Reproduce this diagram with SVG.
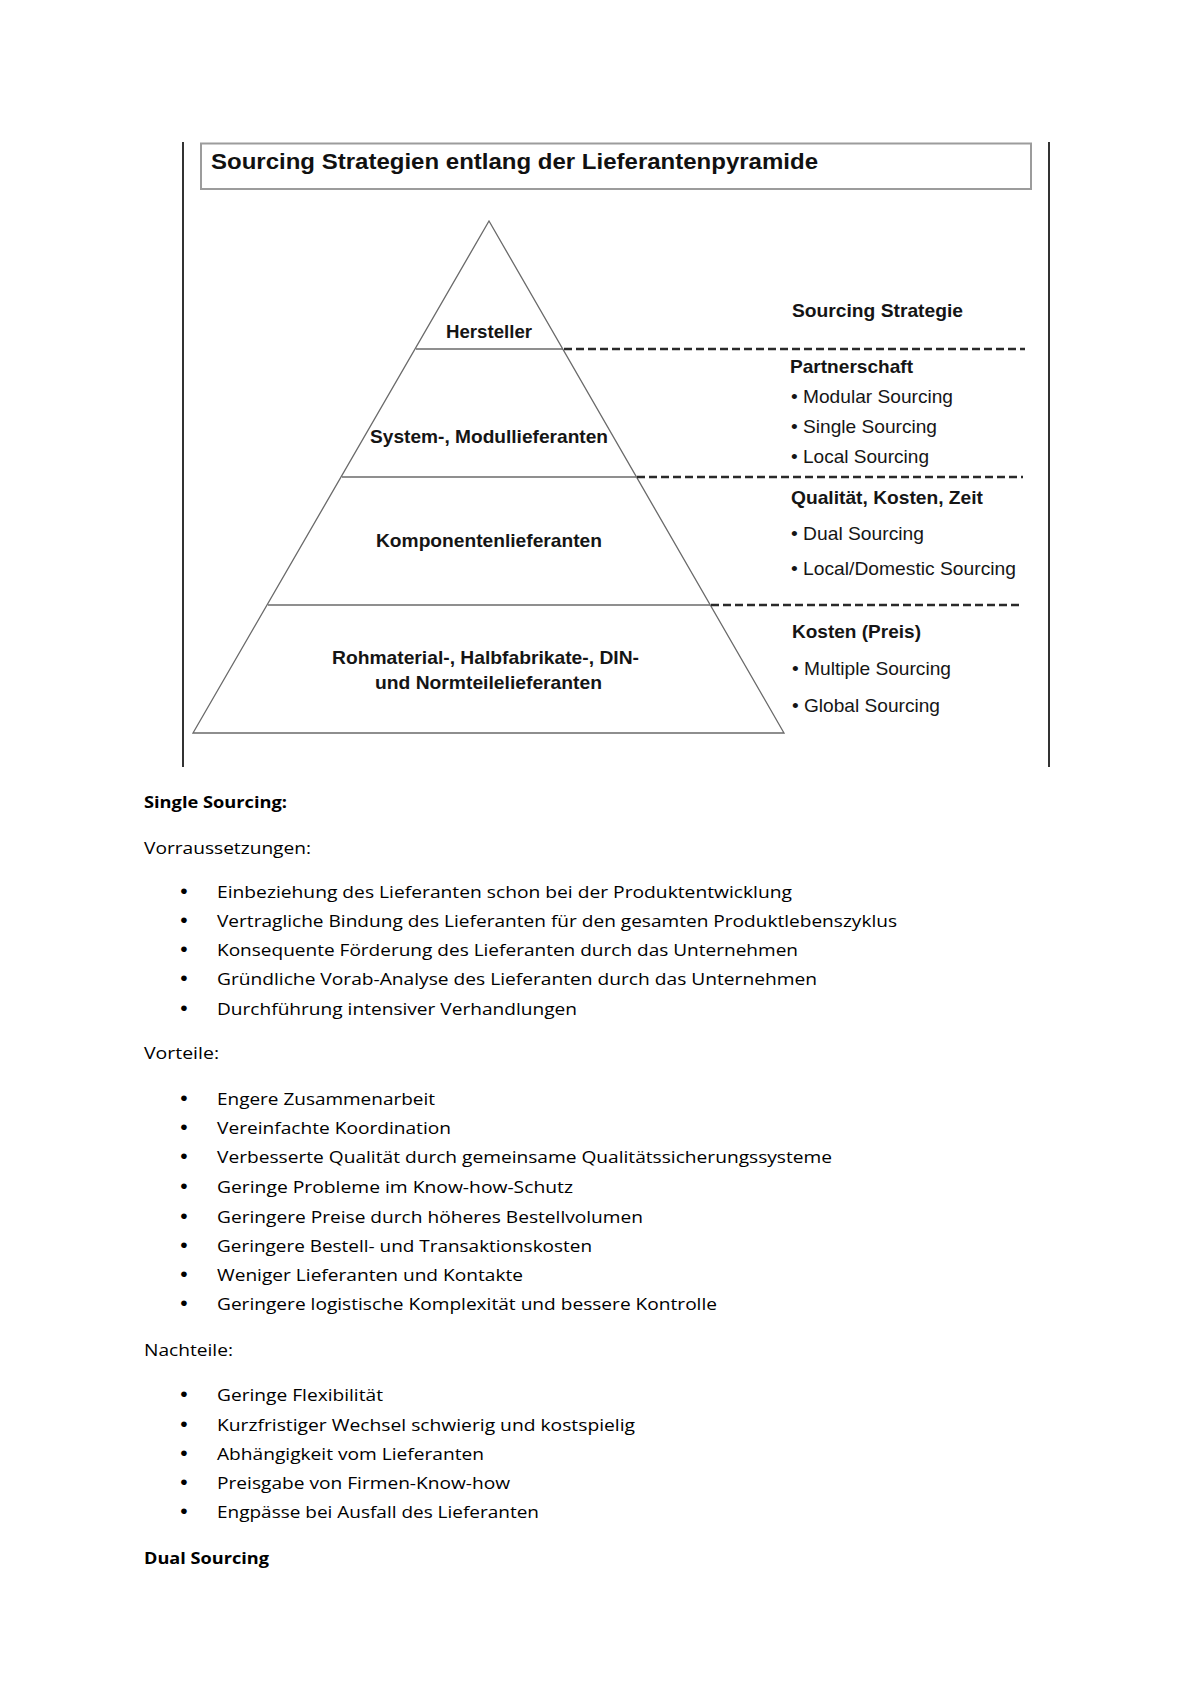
<svg xmlns="http://www.w3.org/2000/svg" width="1200" height="1698" viewBox="0 0 1200 1698">
<style>
.frame{stroke:#333;stroke-width:2;fill:none}
.pyr{stroke:#6a6a6a;stroke-width:1.3;fill:none}
.dash{stroke:#2a2a2a;stroke-width:2.4;stroke-dasharray:8 4;fill:none}
.lbl{font-family:"Liberation Sans",Arial,sans-serif;font-weight:bold;font-size:18.5px;fill:#151515}
.hd{font-family:"Liberation Sans",Arial,sans-serif;font-weight:bold;font-size:19px;fill:#151515}
.it{font-family:"Liberation Sans",Arial,sans-serif;font-size:19px;fill:#151515}
.title{font-family:"Liberation Sans",Arial,sans-serif;font-weight:bold;font-size:22px;fill:#111}
.b{font-family:"Open Sans","Noto Sans",sans-serif;font-size:16.5px;fill:#000}
.bb{font-family:"Open Sans","Noto Sans",sans-serif;font-size:16.5px;font-weight:bold;fill:#000}
.dot{font-family:"Liberation Sans",Arial,sans-serif;font-size:21px;fill:#000}
</style>
<rect width="1200" height="1698" fill="#fff"/>
<g id="frame">
<line class="frame" x1="183" y1="142" x2="183" y2="767"/>
<line class="frame" x1="1049" y1="142" x2="1049" y2="767"/>
</g>
<g id="title">
<rect x="201" y="143.5" width="830" height="45.5" fill="#fff" stroke="#9c9c9c" stroke-width="2"/>
<text class="title" x="211" y="169" textLength="607" lengthAdjust="spacingAndGlyphs">Sourcing Strategien entlang der Lieferantenpyramide</text>
</g>
<g id="pyramid">
<polygon class="pyr" points="489,221 784,733 193,733"/>
<g id="level-hersteller">
<line class="pyr" x1="416" y1="349" x2="563" y2="349"/>
<text class="lbl" x="446" y="338" textLength="86" lengthAdjust="spacingAndGlyphs">Hersteller</text>
</g>
<g id="level-system">
<line class="pyr" x1="342" y1="477" x2="636" y2="477"/>
<text class="lbl" x="370" y="443" textLength="238" lengthAdjust="spacingAndGlyphs">System-, Modullieferanten</text>
</g>
<g id="level-komponenten">
<line class="pyr" x1="268" y1="605" x2="710" y2="605"/>
<text class="lbl" x="376" y="547" textLength="226" lengthAdjust="spacingAndGlyphs">Komponentenlieferanten</text>
</g>
<g id="level-rohmaterial">
<text class="lbl" x="332" y="664" textLength="307" lengthAdjust="spacingAndGlyphs">Rohmaterial-, Halbfabrikate-, DIN-</text>
<text class="lbl" x="375" y="689" textLength="227" lengthAdjust="spacingAndGlyphs">und Normteilelieferanten</text>
</g>
</g>
<g id="connectors">
<line class="dash" x1="564" y1="349" x2="1025" y2="349"/>
<line class="dash" x1="637" y1="477" x2="1023" y2="477"/>
<line class="dash" x1="711" y1="605" x2="1023" y2="605"/>
</g>
<g id="strategies">
<text class="hd" x="792" y="317" textLength="171" lengthAdjust="spacingAndGlyphs">Sourcing Strategie</text>
<g id="strategy-partnerschaft">
<text class="hd" x="790" y="373" textLength="123" lengthAdjust="spacingAndGlyphs">Partnerschaft</text>
<text class="it" x="791" y="403" textLength="162" lengthAdjust="spacingAndGlyphs">• Modular Sourcing</text>
<text class="it" x="791" y="433" textLength="146" lengthAdjust="spacingAndGlyphs">• Single Sourcing</text>
<text class="it" x="791" y="463" textLength="138" lengthAdjust="spacingAndGlyphs">• Local Sourcing</text>
</g>
<g id="strategy-qualitaet">
<text class="hd" x="791" y="504" textLength="192" lengthAdjust="spacingAndGlyphs">Qualität, Kosten, Zeit</text>
<text class="it" x="791" y="540" textLength="133" lengthAdjust="spacingAndGlyphs">• Dual Sourcing</text>
<text class="it" x="791" y="575" textLength="225" lengthAdjust="spacingAndGlyphs">• Local/Domestic Sourcing</text>
</g>
<g id="strategy-kosten">
<text class="hd" x="792" y="638" textLength="129" lengthAdjust="spacingAndGlyphs">Kosten (Preis)</text>
<text class="it" x="792" y="675" textLength="159" lengthAdjust="spacingAndGlyphs">• Multiple Sourcing</text>
<text class="it" x="792" y="712" textLength="148" lengthAdjust="spacingAndGlyphs">• Global Sourcing</text>
</g>
</g>
<g id="body-text">
<text class="bb" x="144" y="808" textLength="143" lengthAdjust="spacingAndGlyphs">Single Sourcing:</text>
<text class="b" x="144" y="854" textLength="167" lengthAdjust="spacingAndGlyphs">Vorraussetzungen:</text>
<g class="dot" text-anchor="middle">
<text x="184" y="898">•</text><text x="184" y="927">•</text><text x="184" y="956">•</text><text x="184" y="985">•</text><text x="184" y="1015">•</text>
<text x="184" y="1105">•</text><text x="184" y="1134">•</text><text x="184" y="1163">•</text><text x="184" y="1193">•</text><text x="184" y="1223">•</text><text x="184" y="1252">•</text><text x="184" y="1281">•</text><text x="184" y="1310">•</text>
<text x="184" y="1401">•</text><text x="184" y="1431">•</text><text x="184" y="1460">•</text><text x="184" y="1489">•</text><text x="184" y="1518">•</text>
</g>
<text class="b" x="217" y="898" textLength="575" lengthAdjust="spacingAndGlyphs">Einbeziehung des Lieferanten schon bei der Produktentwicklung</text>
<text class="b" x="217" y="927" textLength="680" lengthAdjust="spacingAndGlyphs">Vertragliche Bindung des Lieferanten für den gesamten Produktlebenszyklus</text>
<text class="b" x="217" y="956" textLength="581" lengthAdjust="spacingAndGlyphs">Konsequente Förderung des Lieferanten durch das Unternehmen</text>
<text class="b" x="217" y="985" textLength="600" lengthAdjust="spacingAndGlyphs">Gründliche Vorab-Analyse des Lieferanten durch das Unternehmen</text>
<text class="b" x="217" y="1015" textLength="360" lengthAdjust="spacingAndGlyphs">Durchführung intensiver Verhandlungen</text>
<text class="b" x="144" y="1059" textLength="75" lengthAdjust="spacingAndGlyphs">Vorteile:</text>
<text class="b" x="217" y="1105" textLength="218" lengthAdjust="spacingAndGlyphs">Engere Zusammenarbeit</text>
<text class="b" x="217" y="1134" textLength="234" lengthAdjust="spacingAndGlyphs">Vereinfachte Koordination</text>
<text class="b" x="217" y="1163" textLength="615" lengthAdjust="spacingAndGlyphs">Verbesserte Qualität durch gemeinsame Qualitätssicherungssysteme</text>
<text class="b" x="217" y="1193" textLength="356" lengthAdjust="spacingAndGlyphs">Geringe Probleme im Know-how-Schutz</text>
<text class="b" x="217" y="1223" textLength="426" lengthAdjust="spacingAndGlyphs">Geringere Preise durch höheres Bestellvolumen</text>
<text class="b" x="217" y="1252" textLength="375" lengthAdjust="spacingAndGlyphs">Geringere Bestell- und Transaktionskosten</text>
<text class="b" x="217" y="1281" textLength="306" lengthAdjust="spacingAndGlyphs">Weniger Lieferanten und Kontakte</text>
<text class="b" x="217" y="1310" textLength="500" lengthAdjust="spacingAndGlyphs">Geringere logistische Komplexität und bessere Kontrolle</text>
<text class="b" x="144" y="1356" textLength="89" lengthAdjust="spacingAndGlyphs">Nachteile:</text>
<text class="b" x="217" y="1401" textLength="166" lengthAdjust="spacingAndGlyphs">Geringe Flexibilität</text>
<text class="b" x="217" y="1431" textLength="418" lengthAdjust="spacingAndGlyphs">Kurzfristiger Wechsel schwierig und kostspielig</text>
<text class="b" x="217" y="1460" textLength="267" lengthAdjust="spacingAndGlyphs">Abhängigkeit vom Lieferanten</text>
<text class="b" x="217" y="1489" textLength="293" lengthAdjust="spacingAndGlyphs">Preisgabe von Firmen-Know-how</text>
<text class="b" x="217" y="1518" textLength="322" lengthAdjust="spacingAndGlyphs">Engpässe bei Ausfall des Lieferanten</text>
<text class="bb" x="144" y="1564" textLength="125" lengthAdjust="spacingAndGlyphs">Dual Sourcing</text>
</g>
</svg>
